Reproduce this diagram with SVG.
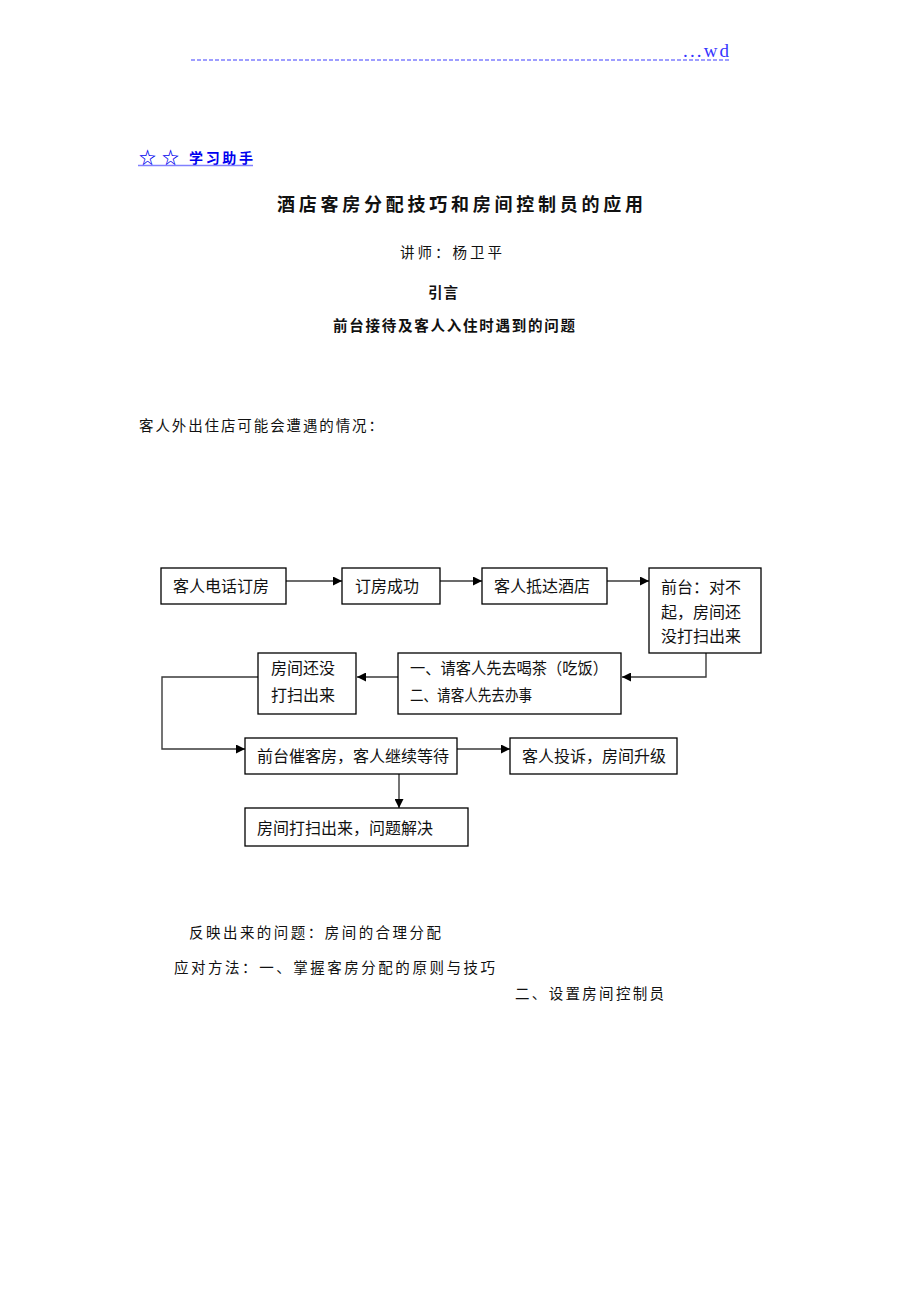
<svg xmlns="http://www.w3.org/2000/svg" width="920" height="1302" viewBox="0 0 920 1302">
<defs>
<style>
.body{font-family:"Noto Sans CJK SC","Noto Sans",sans-serif;font-size:14.5px;fill:#111;}
.bold{font-weight:bold;}
.box{fill:#fff;stroke:#000;stroke-width:1.3;}
.bt{font-family:"Noto Sans CJK SC","Noto Sans",sans-serif;font-size:16px;fill:#111;}
.conn{fill:none;stroke:#3a3a3a;stroke-width:1.4;}
.blue{font-family:"Noto Sans CJK SC","DejaVu Sans",sans-serif;font-weight:bold;fill:#0000ee;}
</style>
<marker id="arr" viewBox="0 0 10 10" refX="10" refY="5" markerWidth="9" markerHeight="9" markerUnits="userSpaceOnUse" orient="auto">
<path d="M0,0 L10,5 L0,10 z" fill="#000"/>
</marker>
</defs>
<rect width="920" height="1302" fill="#fff"/>

<g id="header">
<line x1="191" y1="60" x2="729" y2="60" stroke="#7f7fff" stroke-width="1.5" stroke-dasharray="4,2"/>
<text x="683" y="57" font-family="Liberation Serif,serif" font-size="19" fill="#3535ff" textLength="46" lengthAdjust="spacing">...wd</text>
</g>

<g id="helper">
<text class="blue" x="139" y="164" font-size="17">☆</text>
<text class="blue" x="162" y="164" font-size="17">☆</text>
<text class="blue" x="189" y="163" font-size="14" textLength="64" lengthAdjust="spacing">学习助手</text>
<line x1="138" y1="165.5" x2="253" y2="165.5" stroke="#8080ff" stroke-width="1.5"/>
</g>

<g id="titles">
<text class="body bold" x="277" y="211" style="font-size:18px" textLength="366" lengthAdjust="spacing">酒店客房分配技巧和房间控制员的应用</text>
<text class="body" x="400" y="258" textLength="102" lengthAdjust="spacing">讲师：杨卫平</text>
<text class="body bold" x="428" y="298" textLength="30" lengthAdjust="spacing">引言</text>
<text class="body bold" x="333" y="331" textLength="242" lengthAdjust="spacing">前台接待及客人入住时遇到的问题</text>
<text class="body" x="139" y="431" textLength="244" lengthAdjust="spacing">客人外出住店可能会遭遇的情况：</text>
</g>

<g id="connectors">
<line class="conn" x1="286" y1="581" x2="342" y2="581" marker-end="url(#arr)"/>
<line class="conn" x1="440" y1="581" x2="482" y2="581" marker-end="url(#arr)"/>
<line class="conn" x1="607" y1="581" x2="649" y2="581" marker-end="url(#arr)"/>
<polyline class="conn" points="706,653 706,677 622,677" marker-end="url(#arr)"/>
<line class="conn" x1="398" y1="677" x2="357" y2="677" marker-end="url(#arr)"/>
<polyline class="conn" points="258,677 162,677 162,749 245,749" marker-end="url(#arr)"/>
<line class="conn" x1="457" y1="749" x2="510" y2="749" marker-end="url(#arr)"/>
<line class="conn" x1="399" y1="774" x2="399" y2="808" marker-end="url(#arr)"/>
</g>

<g id="n1"><rect class="box" x="161" y="568" width="125" height="36"/><text class="bt" x="173" y="592">客人电话订房</text></g>
<g id="n2"><rect class="box" x="342" y="568" width="98" height="36"/><text class="bt" x="355" y="592">订房成功</text></g>
<g id="n3"><rect class="box" x="482" y="568" width="125" height="36"/><text class="bt" x="494" y="592">客人抵达酒店</text></g>
<g id="n4"><rect class="box" x="649" y="568" width="112" height="85"/>
<text class="bt" x="661" y="593">前台：对不</text>
<text class="bt" x="661" y="618">起，房间还</text>
<text class="bt" x="661" y="642">没打扫出来</text></g>
<g id="n5"><rect class="box" x="398" y="653" width="223" height="61"/>
<text class="bt" x="410" y="674" textLength="198" lengthAdjust="spacingAndGlyphs">一、请客人先去喝茶（吃饭）</text>
<text class="bt" x="410" y="701" textLength="122" lengthAdjust="spacingAndGlyphs">二、请客人先去办事</text></g>
<g id="n6"><rect class="box" x="258" y="653" width="98" height="61"/>
<text class="bt" x="271" y="674">房间还没</text>
<text class="bt" x="271" y="701">打扫出来</text></g>
<g id="n7"><rect class="box" x="245" y="738" width="212" height="36"/><text class="bt" x="257" y="762">前台催客房，客人继续等待</text></g>
<g id="n8"><rect class="box" x="510" y="738" width="167" height="36"/><text class="bt" x="522" y="762">客人投诉，房间升级</text></g>
<g id="n9"><rect class="box" x="245" y="808" width="223" height="38"/><text class="bt" x="257" y="834">房间打扫出来，问题解决</text></g>

<g id="footer">
<text class="body" x="189" y="938" textLength="252" lengthAdjust="spacing">反映出来的问题：房间的合理分配</text>
<text class="body" x="174" y="973" textLength="321" lengthAdjust="spacing">应对方法：一、掌握客房分配的原则与技巧</text>
<text class="body" x="515" y="999" textLength="149" lengthAdjust="spacing">二、设置房间控制员</text>
</g>
</svg>
